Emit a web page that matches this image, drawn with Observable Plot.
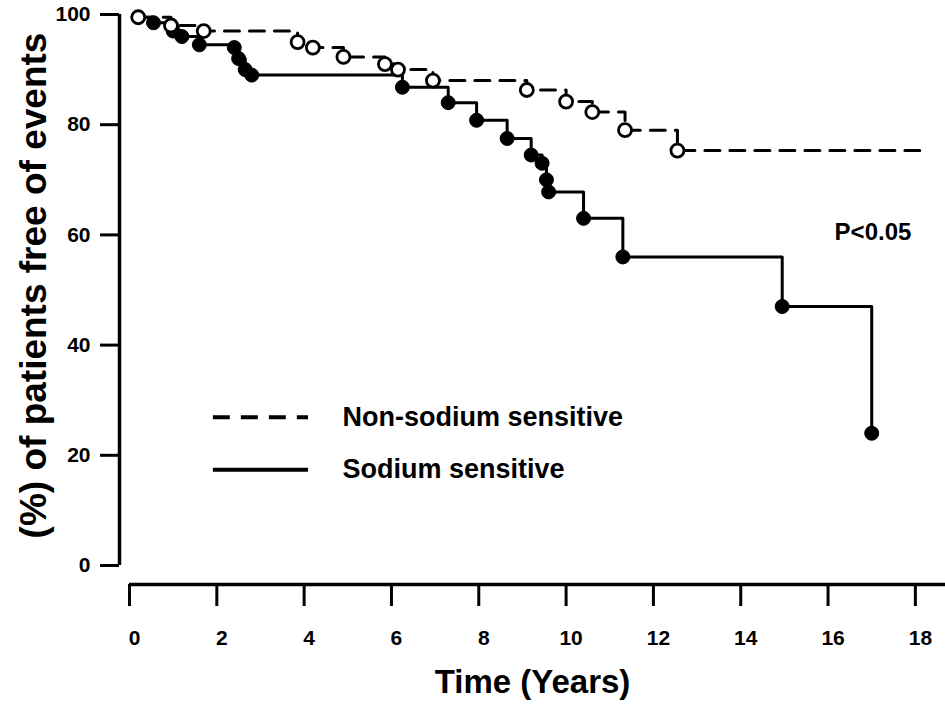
<!DOCTYPE html>
<html>
<head>
<meta charset="utf-8">
<script src="https://cdn.jsdelivr.net/npm/d3@7"></script>
<script src="https://cdn.jsdelivr.net/npm/@observablehq/plot@0.6"></script>
<style>
  html, body { margin: 0; padding: 0; background: #fff; }
  #chart { width: 945px; height: 713px; }
</style>
</head>
<body>
<div id="chart"></div>
<script>
// ---- Data ----
const sodiumTime = [0.2, 0.55, 1.0, 1.2, 1.6, 2.4, 2.5, 2.65, 2.8, 6.25, 7.3, 7.95, 8.65, 9.2, 9.45, 9.55, 9.6, 10.4, 11.3, 14.95, 17.0];
const sodiumSurv = [99.5, 98.5, 97, 96, 94.5, 94, 92, 90, 89, 86.8, 84, 80.8, 77.5, 74.5, 73, 70, 67.8, 63, 56, 47, 24];

const nonSodiumTime = [0.2, 0.95, 1.7, 3.85, 4.2, 4.9, 5.85, 6.15, 6.95, 9.1, 10.0, 10.6, 11.35, 12.55];
const nonSodiumSurv = [99.5, 98, 97, 95, 94, 92.3, 91, 90, 88, 86.3, 84.2, 82.3, 79, 75.3];
const nonSodiumFollowUpEnd = 18.1;

const xTicks = [0, 2, 4, 6, 8, 10, 12, 14, 16, 18];
const yTicks = [0, 20, 40, 60, 80, 100];

const seriesNames = ["Non-sodium sensitive", "Sodium sensitive"];
const xTitle = "Time (Years)";
const yTitle = "(%) of patients free of events";
const pText = "P<0.05";

// ---- Tables built from the arrays ----
const sodium = sodiumTime.map((t, i) => ({t, v: sodiumSurv[i]}));
const nonSodium = nonSodiumTime.map((t, i) => ({t, v: nonSodiumSurv[i]}));
const nonSodiumLine = [...nonSodium, {t: nonSodiumFollowUpEnd, v: nonSodiumSurv[nonSodiumSurv.length - 1]}];

// ---- Layout ----
const W = 945, H = 713;
const mLeft = 119, mTop = 14, mBottom = 129, mRight = 0;
const frameBottom = H - mBottom;      // x-axis line position
const xMax = 18.69;
const font = "'Liberation Sans', Arial, Helvetica, sans-serif";

const legendNon = [{name: seriesNames[0], x1: 1.92, x2: 4.1, y: 26.9}];
const legendSod = [{name: seriesNames[1], x1: 1.92, x2: 4.1, y: 17.4}];

const chart = Plot.plot({
  width: W,
  height: H,
  marginLeft: mLeft,
  marginRight: mRight,
  marginTop: mTop,
  marginBottom: mBottom,
  x: {domain: [0, xMax], insetLeft: 10, axis: null},
  y: {domain: [0, 100], insetBottom: 19, axis: null},
  style: {fontFamily: font, background: "white", color: "black", overflow: "visible"},
  marks: [
    // x axis line
    Plot.ruleY([0], {x1: 0, x2: xMax, dy: 19, stroke: "black", strokeWidth: 3.5}),
    // x ticks (pointing down)
    Plot.ruleX(xTicks, {x: d => d, insetTop: frameBottom - mTop, insetBottom: -22, stroke: "black", strokeWidth: 3}),
    // x tick labels
    Plot.text(xTicks, {x: d => d, y: 0, dy: 73, dx: 5, text: d => String(d), fontSize: 21, fontWeight: "bold", textAnchor: "middle"}),
    // y axis line
    Plot.ruleX([0], {y1: 0, y2: 100, dx: -10, stroke: "black", strokeWidth: 3.5}),
    // y ticks (pointing left)
    Plot.ruleY(yTicks, {y: d => d, insetLeft: -19, insetRight: W - mLeft - mRight, stroke: "black", strokeWidth: 3}),
    // y tick labels
    Plot.text(yTicks, {x: 0, y: d => d, dx: -39, text: d => String(d), fontSize: 21, fontWeight: "bold", textAnchor: "end"}),
    // axis titles
    Plot.text([xTitle], {frameAnchor: "bottom", dy: 108, text: d => d, fontSize: 33, fontWeight: "bold", textAnchor: "middle"}),
    Plot.text([yTitle], {frameAnchor: "left", dx: -85, dy: -14, rotate: -90, text: d => d, fontSize: 37, fontWeight: "bold", textAnchor: "middle"}),

    // survival curves
    Plot.line(nonSodiumLine, {x: "t", y: "v", curve: "step-after", stroke: "black", strokeWidth: 3, strokeDasharray: "15,10"}),
    Plot.line(sodium, {x: "t", y: "v", curve: "step-after", stroke: "black", strokeWidth: 3}),
    Plot.dot(sodium, {x: "t", y: "v", r: 7, fill: "black", stroke: "black", strokeWidth: 1}),
    Plot.dot(nonSodium, {x: "t", y: "v", r: 6.5, fill: "white", stroke: "black", strokeWidth: 2.8}),

    // legend
    Plot.ruleY(legendNon, {x1: "x1", x2: "x2", y: "y", stroke: "black", strokeWidth: 4, strokeDasharray: "17,11"}),
    Plot.ruleY(legendSod, {x1: "x1", x2: "x2", y: "y", stroke: "black", strokeWidth: 4}),
    Plot.text([...legendNon, ...legendSod], {x: 4.88, y: "y", text: "name", textAnchor: "start", fontSize: 27, fontWeight: "bold"}),

    // p value
    Plot.text([pText], {x: 16.15, y: 60.4, text: d => d, textAnchor: "start", fontSize: 24, fontWeight: "bold"})
  ]
});

document.getElementById("chart").appendChild(chart);
</script>
</body>
</html>
